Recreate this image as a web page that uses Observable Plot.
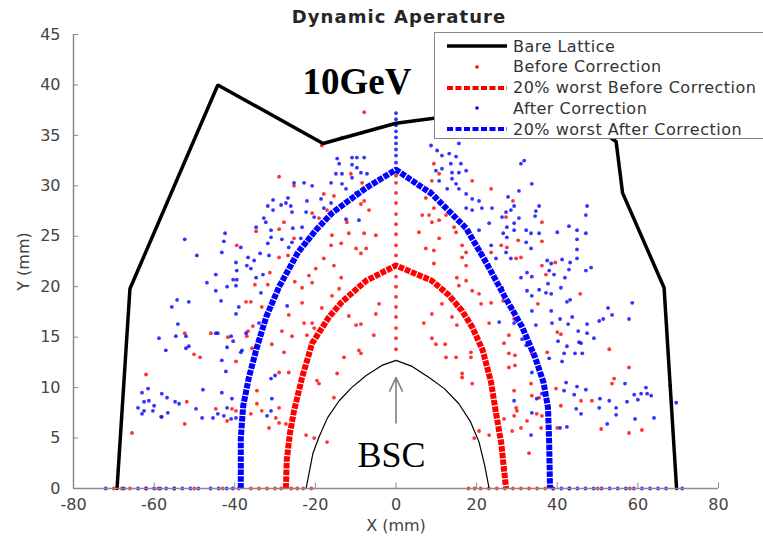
<!DOCTYPE html>
<html>
<head>
<meta charset="utf-8">
<script src="https://cdn.jsdelivr.net/npm/d3@7"></script>
<script src="https://cdn.jsdelivr.net/npm/@observablehq/plot@0.6"></script>
<style>
  html, body { margin: 0; padding: 0; background: #fff; }
  #wrap { position: relative; width: 763px; height: 543px; overflow: hidden; font-family: "DejaVu Sans", sans-serif; }
  #title { position: absolute; left: 0; width: 798px; top: 6px; text-align: center; font-weight: bold; font-size: 18px; letter-spacing: 1.1px; color: #262626; }
  #legend { position: absolute; left: 434px; top: 32px; width: 340px; height: 107px; background: #fff; border: 1px solid #8a8a8a; box-sizing: border-box; }
  .row { position: absolute; left: 0; height: 20px; display: flex; align-items: center; }
  .row svg { margin-left: 12px; }
  .row span { margin-left: 6px; font-size: 16px; letter-spacing: 0.5px; color: #333; white-space: nowrap; }
</style>
</head>
<body>
<div id="wrap">
  <div id="title">Dynamic Aperature</div>
  <div id="chart"></div>
  <div id="legend"></div>
</div>
<script>
// ---------- data ----------
const xTicks = [-80, -60, -40, -20, 0, 20, 40, 60, 80];
const yTicks = [0, 5, 10, 15, 20, 25, 30, 35, 40, 45];

const seriesNames = ["Bare Lattice", "Before Correction", "20% worst Before Correction", "After Correction", "20% worst After Correction"];

const bareLattice = [[-69.2,0],[-66,19.8],[-44.2,40],[-18.1,34.2],[0,36.2],[9.4,36.7],[25,37.4],[45,37],[54.6,34.4],[56.2,29.3],[66.5,19.9],[69.6,0]];

const worstBefore = [[-27.3,0],[-27.1,2.8],[-26.3,5.5],[-25.3,7.7],[-23.3,11],[-20.8,14.4],[-16.6,17],[-13.4,18.5],[-7.4,20.6],[0,22.1],[8.9,20.6],[13,19.2],[16.4,17.6],[18.9,16],[21.5,13.7],[23.6,10.5],[24.8,7.5],[26.1,4.5],[27.3,0]];

const worstAfter = [[-38.5,0],[-38.5,5],[-37.9,8.2],[-36.5,11],[-34.5,14],[-32.2,17],[-29,20],[-24.3,23.4],[-19.9,25.6],[-15.9,27.3],[-7.4,29.8],[0,31.6],[8.9,29.2],[17.4,25.8],[22.5,22.3],[27,19],[31.3,16],[34.5,13],[36.6,10.5],[37.7,8],[38,4.5],[38.2,0]];

const bsc = [[-22.3,0],[-20.6,3.5],[-19.1,5.1],[-17,7],[-14.1,8.7],[-11,10],[-7.4,11.2],[-3.5,12.2],[0,12.7],[4,12.1],[8.2,11],[12,9.9],[15.6,8.4],[18.5,6.6],[20.6,4.6],[22.0,2.3],[23.1,0]];

const beforeCorrection = [
[-29.0,30.9],[-25.3,30.0],[-34.7,25.5],[-29.0,25.7],[-27.8,26.4],[-25.3,24.8],[-39.5,24.1],[-29.0,22.9],[-26.8,23.1],[-31.3,21.4],[-35.0,20.2],[-31.8,20.2],[-25.1,20.5],[-37.2,18.5],[-36.0,18.5],[-33.3,18.0],
[-13.4,34.8],[-18.4,34.0],[-7.9,37.3],[-11.2,31.2],[-8.4,30.3],[-17.9,29.2],[-15.4,29.0],[-7.9,28.5],[-20.8,27.3],[-17.1,27.6],[-8.7,28.2],[-6.7,27.6],[-19.1,26.8],[-12.2,26.4],[-7.9,25.3],[-5.0,25.1],[-11.7,25.3],[-15.9,25.1],[-13.6,24.3],[-16.1,24.1],[-9.9,23.8],[-7.4,23.8],[-8.7,23.3],[-17.9,22.8],[-15.4,22.1],[-19.9,21.8],[-21.6,21.1],[-20.8,20.4],[-13.6,20.9],[-14.1,19.8],[-15.9,19.1],[-23.3,19.9],[-23.3,18.4],[-4.2,18.3],[-18.4,17.9],
[9.4,32.2],[10.7,31.2],[8.9,30.5],[8.7,29.5],[7.4,28.8],[9.4,27.8],[18.9,30.5],[23.6,29.7],[6.5,27.1],[8.2,27.1],[8.9,26.4],[10.7,26.6],[12.4,27.1],[14.4,25.9],[14.9,25.4],[5.7,25.4],[10.7,24.8],[7.4,23.8],[9.4,23.6],[16.4,24.1],[17.4,23.4],[16.4,22.9],[9.4,22.3],[17.4,22.1],[15.1,20.9],[17.4,20.6],[15.6,20.1],[18.9,19.6],[20.6,19.3],[23.6,18.4],[23.6,23.4],[11.4,18.3],[14.9,18.1],[21.1,18.3],
[29.0,28.5],[27.3,26.9],[36.2,26.4],[36.2,24.5],[30.3,24.6],[27.5,23.9],[26.1,24.1],[31.0,22.9],[29.8,22.8],[36.2,22.1],[37.2,21.2],[39.5,22.4],[45.7,19.3],[35.2,18.3],[28.8,17.8],[26.6,18.6],
[-62.0,11.3],[-65.5,5.5],[-52.4,15.4],[-50.1,13.3],[-48.6,13.0],[-45.9,15.4],[-41.7,15.0],[-39.7,12.6],[-51.9,8.6],[-44.7,7.9],[-40.7,7.9],[-39.7,7.7],[-41.9,6.7],[-52.4,6.4],[-58.3,7.1],[-35.5,16.1],[-36.7,15.6],[-37.0,15.1],[-35.7,13.9],[-26.6,17.2],[-28.3,15.6],[-25.8,15.1],[-30.8,14.3],[-27.8,13.5],[-29.0,11.5],[-26.6,11.5],[-34.5,9.7],[-34.5,8.4],[-33.3,7.7],[-29.0,8.0],[-29.8,7.0],[-29.0,6.5],[-31.5,6.0],[-27.3,6.4],[-36.0,7.4],
[-22.8,16.4],[-20.8,16.4],[-22.1,15.2],[-20.3,15.9],[-11.7,17.1],[-9.9,16.2],[-8.7,16.3],[-5.5,15.2],[-9.2,13.7],[-8.7,13.4],[-12.9,13.0],[-14.6,11.4],[-19.6,10.7],[-19.1,10.4],[-15.4,9.0],[-22.3,5.3],[-20.3,5.0],[-17.1,4.6],[-5.0,17.3],[6.9,16.4],[8.9,14.9],[12.2,14.3],[9.9,14.3],[13.9,17.0],[15.1,16.2],[12.4,13.0],[14.9,13.0],[18.6,13.5],[18.6,13.0],[16.4,11.4],[16.4,11.0],[18.9,10.4],[23.1,16.4],[20.6,5.7],[19.4,5.0],[23.1,5.3],[8.9,17.3],
[28.0,15.2],[29.3,16.8],[26.8,14.4],[28.0,13.4],[29.5,13.2],[29.5,12.2],[28.0,12.0],[33.7,13.4],[37.5,13.5],[40.0,15.5],[40.9,15.3],[52.9,13.8],[57.8,12.0],[54.1,10.9],[53.6,10.4],[33.5,10.4],[29.3,9.7],[33.7,9.2],[35.5,9.0],[39.7,9.9],[40.9,8.2],[45.9,8.7],[48.6,8.7],[30.0,7.7],[26.8,6.9],[29.3,7.2],[32.5,6.7],[34.9,7.4],[36.2,7.2],[31.0,6.0],[28.8,5.7],[36.0,6.0],[40.0,6.0],[50.9,5.9],[57.8,5.5],[61.0,5.8],[33.0,3.5],[29.8,8.0],
[0,13.8],[0,14.9],[0,15.9],[0,17.0],[0,18.0],[0,19.0],[0,20.0],[0,21.0],[0,23.1],[0,24.1],[0,25.2],[0,26.2],[0,27.2],[0,28.3],[0,29.3],[0,30.3],[0,31.0],
[-70,0],[-68,0],[-66,0],[-62,0],[-59,0],[-55,0],[-50,0],[-43,0],[-39,0],[-36,0],[-34,0],[-32,0],[-30,0],[-28.5,0],[-26,0],[-24.5,0],[-23,0],[-21,0],[18,0],[19.5,0],[21,0],[23,0],[25,0],[27,0],[29,0],[31,0],[33,0],[35,0],[37,0],[39,0],[43,0],[50,0],[58,0]
];

const afterCorrection = [
[-25.3,30.3],[-26.8,28.8],[-30.5,28.6],[-31.8,28.0],[-28.5,28.1],[-27.3,28.3],[-26.1,28.0],[-30.5,27.6],[-25.8,27.4],[-32.8,26.8],[-32.3,26.4],[-31.0,25.6],[-25.6,25.8],[-34.7,25.9],[-31.0,24.9],[-28.3,24.7],[-25.8,24.4],[-42.4,25.3],[-42.7,24.5],[-52.4,24.7],[-38.5,23.9],[-43.2,23.4],[-31.8,24.3],[-31.5,23.1],[-33.7,23.3],[-26.6,23.9],[-36.7,22.9],[-35.2,22.6],[-39.7,22.4],[-49.4,23.1],[-37.0,22.1],[-36.0,21.8],[-39.5,21.6],[-44.7,21.2],[-34.7,20.9],[-33.0,21.2],[-40.4,20.7],[-39.5,20.7],[-46.9,20.4],[-41.9,20.0],[-39.7,20.1],[-33.5,19.4],[-44.7,19.6],[-54.3,18.7],[-51.4,18.5],[-55.6,18.0],[-43.4,18.6],[-39.0,18.0],[-30.8,18.3],[-27.0,18.1],
[-14.6,32.7],[-10.9,32.8],[-9.7,32.8],[-7.9,32.8],[-14.1,32.2],[-10.9,32.1],[-9.7,31.8],[-14.9,31.2],[-13.4,31.2],[-8.7,31.3],[-7.2,31.2],[-22.8,30.3],[-20.8,30.0],[-16.1,30.3],[-13.4,30.2],[-12.4,29.7],[-10.9,30.8],[-9.9,29.3],[-22.1,28.5],[-18.6,28.7],[-16.1,28.3],[-17.9,27.8],[-22.3,27.4],[-20.3,26.9],[-12.4,26.7],[-9.2,26.6],[-23.3,25.9],[-23.6,24.8],[-22.3,24.3],
[8.7,34.0],[10.2,33.5],[11.4,33.0],[13.2,33.2],[14.9,32.9],[13.6,32.2],[16.1,32.2],[9.9,31.5],[11.4,31.7],[13.9,31.3],[15.6,31.3],[17.4,31.5],[10.7,30.5],[13.9,30.7],[14.9,30.2],[12.7,29.7],[15.6,29.7],[17.4,29.2],[18.9,28.7],[20.6,28.5],[21.3,27.8],[17.4,27.8],[18.9,27.6],[23.8,27.8],[23.1,26.3],[20.6,25.6],[23.6,24.1],[21.1,23.4],[24.8,22.8],[15.6,34.2],
[31.0,32.2],[31.8,32.5],[33.7,30.2],[30.5,29.5],[27.8,28.9],[29.3,28.0],[28.5,27.6],[27.3,27.4],[35.5,28.0],[34.7,27.5],[34.5,27.0],[47.4,28.0],[47.1,27.1],[26.3,26.9],[30.5,26.8],[29.3,26.3],[27.5,25.9],[42.9,26.0],[32.3,25.6],[33.5,25.3],[35.5,25.3],[40.0,25.4],[44.9,25.6],[47.1,25.3],[26.6,25.3],[29.3,25.6],[27.5,24.9],[32.3,24.4],[44.9,24.7],[27.3,23.4],[33.5,23.8],[44.9,23.7],[28.5,22.8],[37.5,22.6],[41.2,22.7],[44.9,22.8],[38.5,22.3],[43.2,22.4],[48.4,21.9],[47.1,21.6],[32.5,21.4],[33.7,21.0],[38.0,21.6],[39.2,21.2],[42.9,21.7],[41.9,20.9],[31.0,20.9],[37.7,20.3],[35.5,19.7],[40.9,19.9],[32.5,19.6],[33.7,19.1],[37.2,19.4],[38.5,19.3],[42.4,18.5],[43.2,18.7],[26.3,19.9],[52.6,17.9],[58.6,18.4],[33.7,17.6],
[-54.1,16.3],[-58.8,14.9],[-54.6,15.1],[-52.1,15.1],[-57.1,13.7],[-51.4,14.1],[-52.1,13.9],[-44.7,15.4],[-44.2,15.4],[-40.9,15.1],[-40.4,14.6],[-41.9,14.0],[-38.2,13.7],[-43.2,12.7],[-42.2,11.6],[-63.0,9.5],[-61.5,9.9],[-58.1,9.4],[-56.8,9.0],[-47.9,9.8],[-43.2,9.5],[-40.7,8.9],[-62.5,8.6],[-61.3,8.7],[-54.8,8.6],[-53.8,8.4],[-64.0,8.0],[-60.0,8.2],[-62.5,7.7],[-60.3,7.7],[-56.6,7.5],[-63.0,7.4],[-58.1,7.1],[-49.6,7.9],[-48.1,7.0],[-45.4,7.0],[-44.2,7.4],[-42.7,7.2],[-40.9,6.9],[-41.9,8.0],[-39.7,7.0],[-32.0,7.2],[-31.0,7.7],[-30.8,8.9],[-39.7,17.3],[-34.0,16.4],[-31.0,10.9],[-30.0,11.2],[-37.2,15.4],[-38.5,13.5],
[25.6,16.5],[29.3,16.4],[31.3,14.8],[32.3,14.2],[34.7,16.2],[38.5,17.6],[38.7,16.4],[40.7,16.8],[42.7,16.3],[43.7,17.0],[45.2,15.6],[47.4,16.3],[47.4,15.4],[50.4,16.6],[51.4,16.8],[53.6,17.2],[57.8,16.8],[49.1,14.9],[40.2,14.6],[45.4,14.5],[45.9,14.4],[42.4,14.1],[41.7,13.4],[44.4,13.4],[46.2,13.4],[38.0,12.9],[41.2,12.6],[33.7,11.5],[42.2,10.5],[41.7,9.7],[44.9,10.1],[47.1,9.8],[44.2,9.3],[36.2,9.4],[34.9,8.9],[29.3,8.7],[50.6,8.9],[52.9,8.7],[56.8,10.4],[59.1,9.3],[57.3,8.6],[60.8,9.4],[62.0,10.0],[62.3,9.4],[63.3,9.2],[60.0,8.8],[69.5,8.5],[68.0,10.2],[44.7,7.9],[45.9,7.4],[50.4,8.0],[54.6,8.0],[54.6,7.3],[59.3,6.9],[64.0,7.0],[52.4,6.4],[42.4,6.1],[40.7,6.0],[33.7,7.5],[33.5,5.3],
[0,32.3],[0,33.0],[0,33.6],[0,34.2],[0,34.8],[0,35.4],[0,36.0],[0,36.6],[0,37.2],
[-72,0],[-67.5,0],[-64,0],[-62,0],[-60,0],[-58.5,0],[-57,0],[-55,0],[-53,0],[-51,0],[-49,0],[-46,0],[-44,0],[-42,0],[-40.5,0],[39,0],[41,0],[43,0],[45,0],[47,0],[49,0],[51,0],[53,0],[55,0],[57,0],[59,0],[61,0],[63,0],[65,0],[67,0],[71,0]
];

// annotations (text and arrow)
const energyLabel = [{x: -9.7, y: 39.1, text: "10GeV"}];
const bscLabel = [{x: -1.1, y: 2.1, text: "BSC"}];
const bscArrow = [{x1: 0, y1: 6.5, x2: 0, y2: 11.0}];

// ---------- chart ----------
const red = "#ff0000", blue = "#0000ff";
const axisGray = "#8c8c8c", labelGray = "#444444";

const chart = Plot.plot({
  width: 763,
  height: 543,
  marginLeft: 73,
  marginRight: 45,
  marginTop: 34,
  marginBottom: 55,
  x: {domain: [-80, 80]},
  y: {domain: [0, 45]},
  style: {fontFamily: "DejaVu Sans, sans-serif", background: "white"},
  marks: [
    Plot.dot(beforeCorrection, {x: d => d[0], y: d => d[1], r: 1.9, fill: red, fillOpacity: 0.8, stroke: "none"}),
    Plot.dot(afterCorrection, {x: d => d[0], y: d => d[1], r: 1.9, fill: blue, fillOpacity: 0.8, stroke: "none"}),
    Plot.line(bsc, {x: d => d[0], y: d => d[1], stroke: "black", strokeWidth: 1.2, curve: "linear"}),
    Plot.line(worstBefore, {x: d => d[0], y: d => d[1], stroke: red, strokeWidth: 6, strokeDasharray: "5.5 1.2", strokeLinecap: "butt", curve: "linear"}),
    Plot.line(worstAfter, {x: d => d[0], y: d => d[1], stroke: blue, strokeWidth: 6, strokeDasharray: "5.5 1.2", strokeLinecap: "butt", curve: "linear"}),
    Plot.line(bareLattice, {x: d => d[0], y: d => d[1], stroke: "black", strokeWidth: 3.5, strokeLinejoin: "miter"}),
    Plot.arrow(bscArrow, {x1: "x1", y1: "y1", x2: "x2", y2: "y2", stroke: "#808080", strokeWidth: 1.6, headLength: 14, headAngle: 50}),
    Plot.text(energyLabel, {x: "x", y: "y", text: "text", fontFamily: "Liberation Serif, Times New Roman, serif", fontWeight: "bold", fontSize: 37, fill: "black", lineAnchor: "bottom"}),
    Plot.text(bscLabel, {x: "x", y: "y", text: "text", fontFamily: "Liberation Serif, Times New Roman, serif", fontSize: 36, fill: "black", lineAnchor: "bottom"}),
    // axis lines
    Plot.ruleY([0], {stroke: axisGray, strokeWidth: 1.5}),
    Plot.ruleX([-80], {stroke: axisGray, strokeWidth: 1.5}),
    // inward ticks
    Plot.ruleX(xTicks, {x: d => d, y1: 0, y2: 0.55, stroke: axisGray, strokeWidth: 1}),
    Plot.ruleY(yTicks, {y: d => d, x1: -80, x2: -78.7, stroke: axisGray, strokeWidth: 1}),
    Plot.axisX(xTicks, {tickSize: 0, tickPadding: 10, fontSize: 16, color: labelGray, label: "X (mm)", labelAnchor: "center", labelArrow: "none", labelOffset: 42, tickFormat: d => String(d)}),
    Plot.axisY(yTicks, {tickSize: 0, tickPadding: 13, fontSize: 16, color: labelGray, label: "Y (mm)", labelAnchor: "center", labelOffset: 56, labelArrow: "none"})
  ]
});
document.getElementById("chart").appendChild(chart);

// ---------- legend ----------
const legend = document.getElementById("legend");
const legendStyles = [
  {type: "line", color: "black", dash: null, width: 3.5},
  {type: "dot", color: red},
  {type: "line", color: red, dash: "6 2.5", width: 4},
  {type: "dot", color: blue},
  {type: "line", color: blue, dash: "6 2.5", width: 4}
];
seriesNames.forEach((name, i) => {
  const row = document.createElement("div");
  row.className = "row";
  row.style.top = (3 + i * 20.8) + "px";
  const s = legendStyles[i];
  const sw = d3.create("svg").attr("width", 60).attr("height", 20);
  if (s.type === "line") {
    sw.append("line").attr("x1", 0).attr("x2", 60).attr("y1", 10).attr("y2", 10)
      .attr("stroke", s.color).attr("stroke-width", s.width).attr("stroke-dasharray", s.dash);
  } else {
    sw.append("circle").attr("cx", 30).attr("cy", 10).attr("r", 1.8).attr("fill", s.color);
  }
  row.appendChild(sw.node());
  const t = document.createElement("span");
  t.textContent = name;
  row.appendChild(t);
  legend.appendChild(row);
});
</script>
</body>
</html>
